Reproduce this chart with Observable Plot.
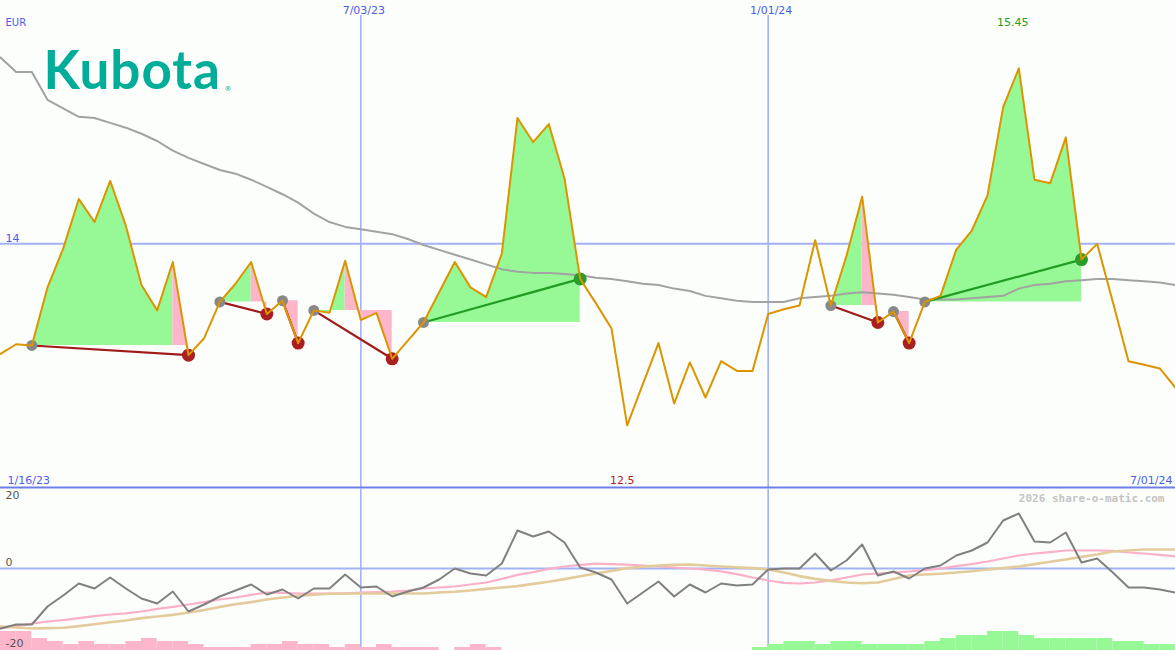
<!DOCTYPE html>
<html><head><meta charset="utf-8">
<script src="https://cdn.jsdelivr.net/npm/d3@7"></script>
<script src="https://cdn.jsdelivr.net/npm/@observablehq/plot@0.6"></script>
<style>
html,body{margin:0;padding:0;background:#fcfefc;}
#chart{width:1175px;height:650px;overflow:hidden;}
#chart svg{display:block;}
</style></head><body><div id="chart"></div>
<script>
// weekly dates (Mondays)
const dates = d3.utcMonday.range(new Date(Date.UTC(2023,0,23)), new Date(Date.UTC(2024,6,2)));
const price = [13.09,13.17,13.16,13.64,13.96,14.37,14.18,14.52,14.15,13.66,
 13.45,13.85,13.08,13.22,13.52,13.67,13.85,13.42,13.53,13.18,
 13.45,13.43,13.86,13.37,13.43,13.05,13.20,13.35,13.60,13.85,
 13.64,13.56,13.92,15.04,14.84,14.99,14.54,13.71,13.51,13.30,
 12.50,12.84,13.18,12.68,13.02,12.73,13.03,12.95,12.95,13.42,
 13.46,13.49,14.03,13.49,13.90,14.39,13.35,13.44,13.18,13.52,
 13.57,13.95,14.11,14.40,15.13,15.45,14.53,14.50,14.88,13.87,
 14.00,13.52,13.03,13.00,12.97,12.81];
const ma = [15.54,15.42,15.42,15.19,15.12,15.05,15.04,15.00,14.96,14.91,
 14.85,14.77,14.71,14.66,14.61,14.58,14.53,14.47,14.41,14.34,
 14.25,14.18,14.14,14.12,14.10,14.08,14.04,13.99,13.95,13.91,
 13.87,13.83,13.79,13.77,13.76,13.76,13.75,13.74,13.72,13.71,
 13.69,13.67,13.66,13.63,13.61,13.57,13.55,13.53,13.52,13.52,
 13.52,13.55,13.56,13.57,13.59,13.60,13.59,13.58,13.56,13.54,
 13.54,13.54,13.55,13.56,13.57,13.63,13.66,13.67,13.69,13.70,
 13.71,13.71,13.70,13.69,13.68,13.66];
const osc = [-15,-14,-14,-9.5,-6.75,-3.75,-5,-2.25,-5,-7.5,
 -8.75,-5.75,-10.75,-9,-7,-5.5,-4,-6.5,-5.25,-7.5,
 -5,-5,-1.5,-4.75,-4.5,-7,-5.75,-4.75,-2.75,0,
 -1.25,-1.75,1.25,9.5,8,9.25,6.5,0.25,-1,-2.75,
 -8.75,-6,-3.25,-7,-4,-6,-3.75,-4.25,-4,-0.25,
 0,0,3.75,-0.5,2,6,-1.75,-0.75,-2.5,0,
 0.75,3.25,4.5,6.5,12,13.75,6.75,6.5,9,1.5,
 2.5,-1,-4.75,-4.75,-5.25,-6];
const oscPink = [-15,-14.4,-13.8,-13.25,-12.9,-12.4,-11.9,-11.5,-11.2,-10.75,
 -10.1,-9.6,-9,-8.4,-7.75,-7.25,-6.6,-6,-6.1,-6.25,
 -6.25,-6.25,-6.2,-6.05,-5.9,-5.8,-5.5,-5,-4.75,-4.5,
 -4,-3.5,-2.6,-1.6,-0.9,-0.1,0.5,0.9,1.2,1.1,
 0.95,0.75,0.5,0.25,0,-0.3,-0.7,-1.4,-2.25,-3,
 -3.6,-3.75,-3.5,-2.95,-2.25,-1.5,-1.25,-1,-0.75,-0.4,
 0,0.6,1.1,1.75,2.5,3.25,3.75,4.1,4.5,4.5,
 4.5,4.4,4,3.75,3.4,3];
const oscTan = [-14.5,-14.75,-15,-14.9,-14.8,-14.4,-13.95,-13.45,-13,-12.4,
 -12,-11.6,-11,-10.4,-9.6,-8.95,-8.4,-7.75,-7.25,-6.8,
 -6.55,-6.3,-6.25,-6.25,-6.25,-6.25,-6.25,-6.25,-6,-5.8,
 -5.5,-5.1,-4.75,-4.4,-3.85,-3.3,-2.65,-1.95,-1.25,-0.6,
 0.1,0.45,0.75,0.9,1,0.75,0.5,0.3,0.1,-0.25,
 -1,-1.9,-2.6,-3.1,-3.5,-3.7,-3.5,-2.6,-1.75,-1.5,
 -1.3,-1,-0.7,-0.25,0.1,0.5,1.1,1.7,2.25,2.9,
 3.5,4.25,4.5,4.75,4.75,4.75];
// weekly histogram (between consecutive weeks)
const hist = [-4.75,-4.75,-3,-2.25,-1.5,-2.25,-1.5,-1.5,-2.25,-3,
 -2.25,-2.25,-1.5,-0.75,-0.75,-0.75,-1.5,-1.5,-2.25,-1.5,
 -1.5,-0.75,-1.5,-0.75,-1.5,-0.75,-0.75,-0.75,0,-0.75,
 -1.5,-0.75,0,0,0,0,0,0,0,0,
 0,0,0,0,0,0,0,0,0.75,1.5,
 2.25,2.25,1.5,2.25,2.25,1.5,1.5,1.5,1.5,2.25,
 3,3.75,3.75,4.75,4.75,3.75,3,3,3,3,
 3,2.25,2.25,1.5,1.5];
// swings: start, last peak, end (week indices)
const swings = [
 {start:2,peak:11,end:12},{start:14,peak:16,end:17},{start:18,peak:18,end:19},
 {start:20,peak:22,end:25},{start:27,peak:37,end:37},{start:53,peak:55,end:56},
 {start:57,peak:57,end:58},{start:59,peak:69,end:69}];
const gridDates = [new Date(Date.UTC(2023,6,3)), new Date(Date.UTC(2024,0,1))];
const gridLabels = ["7/03/23","1/01/24"];
const firstLabel = "1/16/23", lastLabel = "7/01/24", currency = "EUR";
const levels = [14];
const oscTop = [20], oscZero = [0], oscBottom = [-20];
const priceDomain = [11.978, 16.011];
const oscDomain = [-20.5, 20];

const rows = dates.map((d,i)=>({date:d, price:price[i], ma:ma[i], osc:osc[i], pink:oscPink[i], tan:oscTan[i]}));
swings.forEach(s => s.up = price[s.end] > price[s.start]);
const upRows = [], downRows = [];
swings.forEach((s,id) => {
  const base = price[s.start];
  for (let i=s.start;i<=s.peak;i++) upRows.push({id, date:dates[i], y1:base, y2:price[i]});
  if (s.end > s.peak) for (let i=s.peak;i<=s.end;i++) downRows.push({id, date:dates[i], y1:base, y2:price[i]});
});
const barRows = hist.map((v,i)=>({x1:dates[i], x2:dates[i+1], v})).filter(d=>d.v!==0);

const BLUE = "#4c5ce8", GRID = "#a3b2f4";
const GREEN = "#96f996", PINK = "#fdb6c9";
const iMax = d3.maxIndex(price), iMin = d3.minIndex(price);
const font = {fontFamily:"DejaVu Sans", fontSize:11};
const st = {background:"transparent", fontFamily:"DejaVu Sans", fontSize:"11px", overflow:"visible"};

const upper = Plot.plot({
  width:1175, height:488, margin:0, style:st,
  x:{type:"utc", domain:[dates[0], dates[dates.length-1]], axis:null},
  y:{domain:priceDomain, axis:null},
  marks:[
    Plot.ruleX(gridDates, {stroke:GRID, strokeWidth:1.6, insetTop:15}),
    Plot.ruleY(levels, {stroke:GRID, strokeWidth:2}),
    Plot.ruleY([priceDomain[0]], {stroke:"#6e7ee9", strokeWidth:2, dy:-1}),
    Plot.areaY(upRows, {x:"date", y1:"y1", y2:"y2", z:"id", fill:GREEN}),
    Plot.areaY(downRows, {x:"date", y1:"y1", y2:"y2", z:"id", fill:PINK}),
    Plot.text(["Kubota"], {text:d=>d, frameAnchor:"top-left", dx:43, dy:88, lineAnchor:"bottom", fontFamily:"Lato", fontWeight:700, fontSize:53, fill:"#00ad99", className:"logo"}),
    Plot.text(["®"], {text:d=>d, frameAnchor:"top-left", dx:224, dy:90, lineAnchor:"bottom", fontSize:7, fill:"#00ad99"}),
    Plot.line(rows, {x:"date", y:"ma", stroke:"#a2a2a2", strokeWidth:2}),
    Plot.link(swings.filter(s=>!s.up), {x1:s=>dates[s.start], y1:s=>price[s.start], x2:s=>dates[s.end], y2:s=>price[s.end], stroke:"#a11a1a", strokeWidth:2.2}),
    Plot.link(swings.filter(s=>s.up), {x1:s=>dates[s.start], y1:s=>price[s.start], x2:s=>dates[s.end], y2:s=>price[s.end], stroke:"#239c23", strokeWidth:2.2}),
    Plot.dot(swings, {x:s=>dates[s.start], y:s=>price[s.start], r:5.5, fill:"#888888"}),
    Plot.dot(swings.filter(s=>!s.up), {x:s=>dates[s.end], y:s=>price[s.end], r:6.5, fill:"#aa2020"}),
    Plot.dot(swings.filter(s=>s.up), {x:s=>dates[s.end], y:s=>price[s.end], r:6.5, fill:"#2a9c2a"}),
    Plot.line(rows, {x:"date", y:"price", stroke:"#dc9500", strokeWidth:2}),
    // texts
    Plot.text([currency], {text:d=>d, frameAnchor:"top-left", dx:5, dy:25, lineAnchor:"bottom", fill:BLUE, fontSize:10, fontFamily:"DejaVu Sans"}),
    Plot.text(gridDates, {x:d=>d, text:(d,i)=>gridLabels[i], frameAnchor:"top", dy:13, dx:3, lineAnchor:"bottom", fill:BLUE, ...font}),
    Plot.text(levels, {y:d=>d, text:d=>String(d), frameAnchor:"left", dx:5, dy:-2, lineAnchor:"bottom", fill:BLUE, ...font}),
    Plot.text([iMax], {x:i=>dates[i], text:i=>price[i].toFixed(2), frameAnchor:"top", dy:25, dx:-6, lineAnchor:"bottom", fill:"#24a024", ...font}),
    Plot.text([iMin], {x:i=>dates[i], text:i=>String(+price[i].toFixed(2)), frameAnchor:"bottom", dy:-5, dx:-5, lineAnchor:"bottom", fill:"#aa2424", ...font}),
    Plot.text([firstLabel], {text:d=>d, frameAnchor:"bottom-left", dx:7, dy:-5, lineAnchor:"bottom", fill:BLUE, ...font}),
    Plot.text([lastLabel], {text:d=>d, frameAnchor:"bottom-right", dx:-3, dy:-5, lineAnchor:"bottom", fill:BLUE, ...font})
  ]
});
upper.querySelectorAll(".logo text").forEach(t => t.setAttribute("letter-spacing", "1"));

const lower = Plot.plot({
  width:1175, height:162, margin:0, style:st,
  x:{type:"utc", domain:[dates[0], dates[dates.length-1]], axis:null},
  y:{domain:oscDomain, axis:null},
  marks:[
    Plot.ruleX(gridDates, {stroke:GRID, strokeWidth:1.6}),
    Plot.ruleY([0], {stroke:GRID, strokeWidth:2}),
    Plot.rectY(barRows.filter(d=>d.v<0), {x1:"x1", x2:"x2", y1:oscDomain[0], y2:d=>oscDomain[0]-d.v, fill:PINK}),
    Plot.rectY(barRows.filter(d=>d.v>0), {x1:"x1", x2:"x2", y1:oscDomain[0], y2:d=>oscDomain[0]+d.v, fill:GREEN}),
    Plot.line(rows, {x:"date", y:"pink", stroke:"#fbb0c8", strokeWidth:2.2}),
    Plot.line(rows, {x:"date", y:"tan", stroke:"#e3cb9c", strokeWidth:2.6}),
    Plot.line(rows, {x:"date", y:"osc", stroke:"#808080", strokeWidth:2}),
    Plot.text(oscTop, {y:d=>d, text:d=>String(d), frameAnchor:"left", dx:5, dy:3, lineAnchor:"top", fill:"#555555", ...font}),
    Plot.text(oscZero, {y:d=>d, text:d=>String(d), frameAnchor:"left", dx:5, dy:-3, lineAnchor:"bottom", fill:"#555555", ...font}),
    Plot.text(oscBottom, {y:d=>d, text:d=>String(d), frameAnchor:"left", dx:5, dy:-2, lineAnchor:"bottom", fill:"#555555", ...font}),
    Plot.text(["2026 share-o-matic.com"], {text:d=>d, frameAnchor:"top-right", dx:-11, dy:13, lineAnchor:"bottom", fill:"#c4c4c4", fontFamily:"DejaVu Sans Mono", fontWeight:"bold", fontSize:11})
  ]
});

const chart = document.getElementById("chart");
chart.append(upper, lower);
</script></body></html>
